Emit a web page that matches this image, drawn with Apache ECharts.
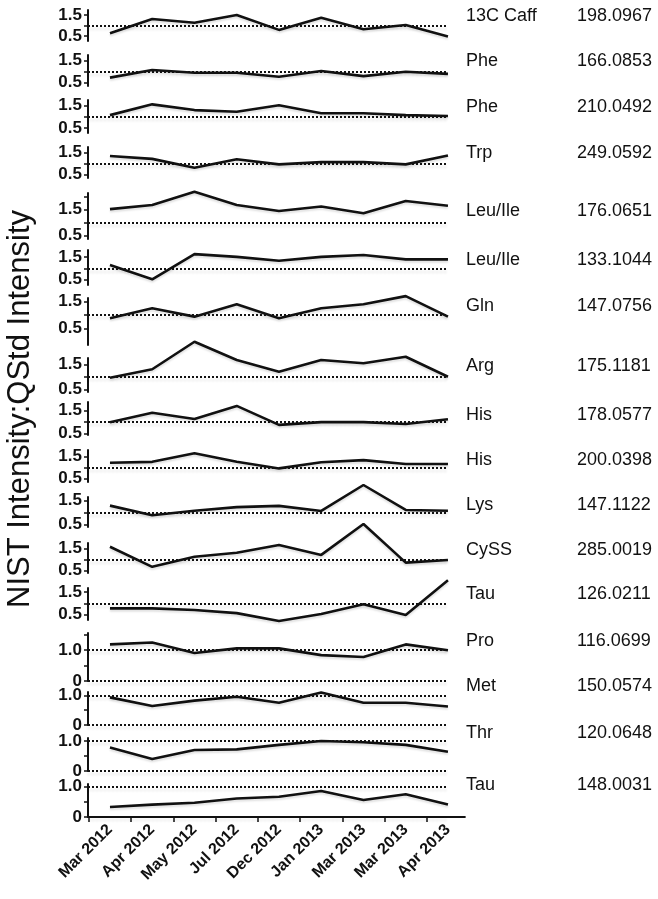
<!DOCTYPE html>
<html>
<head>
<meta charset="utf-8">
<script src="https://cdn.jsdelivr.net/npm/echarts@6/dist/echarts.min.js"></script>
<style>
  html, body { margin: 0; padding: 0; background: #fff; }
  #chart { width: 658px; height: 899px; }
</style>
</head>
<body>
<div id="chart"></div>
<script>
// sampling dates (x axis)
const months = ['Mar 2012', 'Apr 2012', 'May 2012', 'Jul 2012', 'Dec 2012', 'Jan 2013', 'Mar 2013', 'Mar 2013', 'Apr 2013'];

// compound name + m/z, top to bottom
const compounds = ['13C Caff', 'Phe', 'Phe', 'Trp', 'Leu/Ile', 'Leu/Ile', 'Gln', 'Arg', 'His', 'His', 'Lys', 'CySS', 'Tau', 'Pro', 'Met', 'Thr', 'Tau'];
const masses = ['198.0967', '166.0853', '210.0492', '249.0592', '176.0651', '133.1044', '147.0756', '175.1181', '178.0577', '200.0398', '147.1122', '285.0019', '126.0211', '116.0699', '150.0574', '120.0648', '148.0031'];

// NIST intensity : QStd intensity ratio per date
const caff198 = [0.64, 1.32, 1.14, 1.51, 0.80, 1.38, 0.83, 1.03, 0.48];
const phe166 = [0.73, 1.08, 0.95, 0.95, 0.77, 1.03, 0.80, 1.00, 0.90];
const phe210 = [1.07, 1.54, 1.29, 1.22, 1.50, 1.15, 1.15, 1.07, 1.03];
const trp249 = [1.33, 1.20, 0.80, 1.18, 0.95, 1.05, 1.05, 0.95, 1.35];
const leu176 = [1.52, 1.68, 2.19, 1.68, 1.45, 1.62, 1.36, 1.83, 1.65];
const leu133 = [1.14, 0.52, 1.62, 1.50, 1.33, 1.50, 1.58, 1.39, 1.39];
const gln147 = [0.88, 1.25, 0.94, 1.40, 0.88, 1.25, 1.40, 1.70, 0.94];
const arg175 = [0.96, 1.30, 2.40, 1.67, 1.20, 1.67, 1.54, 1.80, 1.00];
const his178 = [0.99, 1.40, 1.13, 1.70, 0.87, 0.99, 0.99, 0.91, 1.12];
const his200 = [1.21, 1.25, 1.64, 1.25, 0.95, 1.23, 1.33, 1.15, 1.15];
const lys147 = [1.29, 0.89, 1.08, 1.23, 1.28, 1.07, 2.15, 1.11, 1.08];
const cyss285 = [1.57, 0.66, 1.12, 1.30, 1.65, 1.20, 2.60, 0.85, 0.97];
const tau126 = [0.78, 0.78, 0.71, 0.57, 0.23, 0.53, 0.96, 0.49, 2.01];
const pro116 = [1.19, 1.25, 0.91, 1.06, 1.06, 0.84, 0.78, 1.19, 1.00];
const met150 = [0.93, 0.64, 0.82, 0.95, 0.75, 1.09, 0.75, 0.75, 0.62];
const thr120 = [0.78, 0.40, 0.70, 0.72, 0.87, 1.00, 0.96, 0.87, 0.64];
const tau148 = [0.33, 0.41, 0.47, 0.61, 0.67, 0.86, 0.56, 0.75, 0.41];

const seriesData = [caff198, phe166, phe210, trp249, leu176, leu133, gln147, arg175, his178,
  his200, lys147, cyss285, tau126, pro116, met150, thr120, tau148];

// y-axis label values: top 13 panels use 0.5 / 1.5, last 4 use 0 / 1.0
const upperLabels = [0.5, 1.5];
const lowerLabels = [0, 1];

// panel layout: grid top/height (px) and y range
const panels = [
  { top: 10, height: 31, min: 0.27, max: 1.75 },
  { top: 55, height: 31, min: 0.35, max: 1.76 },
  { top: 100, height: 33, min: 0.29, max: 1.73 },
  { top: 147, height: 31, min: 0.33, max: 1.74 },
  { top: 193, height: 46, min: 0.37, max: 2.14 },
  { top: 250, height: 35, min: 0.27, max: 1.80 },
  { top: 298, height: 47, min: -0.11, max: 1.63 },
  { top: 358, height: 34, min: 0.39, max: 1.75 },
  { top: 402, height: 33, min: 0.43, max: 1.87 },
  { top: 450, height: 32, min: 0.33, max: 1.79 },
  { top: 497, height: 30, min: 0.40, max: 1.65 },
  { top: 543, height: 30, min: 0.38, max: 1.74 },
  { top: 588, height: 32, min: 0.27, max: 1.67 },
  { top: 633, height: 48, min: 0, max: 1.56 },
  { top: 692, height: 33, min: 0, max: 1.11 },
  { top: 738, height: 33, min: 0, max: 1.10 },
  { top: 784, height: 33, min: 0, max: 1.09 }
];
const labelY = [18, 63, 109, 155, 213, 262, 308, 368, 417, 462, 507, 552, 596, 643, 688, 735, 787];

const FONT = '"Liberation Sans", Arial, sans-serif';
const xMin = -0.52, xMax = 8, pxPerIdx = 42.25;

const chart = echarts.init(document.getElementById('chart'));

const grids = [], xAxes = [], yAxes = [], series = [], graphics = [];

panels.forEach((p, i) => {
  const last = i === panels.length - 1;
  const lower = i >= 13;
  const axMax = last ? 8.4 : xMax;
  grids.push({
    left: 88, top: p.top, height: p.height,
    width: (axMax - xMin) * pxPerIdx
  });
  xAxes.push({
    type: 'value', gridIndex: i, min: xMin, max: axMax,
    show: last,
    axisLine: { show: true, onZero: false, lineStyle: { color: '#111', width: 2 } },
    axisTick: { show: true, length: 5, lineStyle: { color: '#111', width: 1.5 },
      customValues: [-0.5, 0.5, 1.5, 2.5, 3.5, 4.5, 5.5, 6.5, 7.5] },
    axisLabel: {
      customValues: months.map((m, k) => k),
      formatter: v => months[Math.round(v)],
      rotate: 45, margin: 10, fontFamily: FONT, fontWeight: 'bold', fontSize: 16, color: '#111'
    },
    splitLine: { show: false }
  });
  const ticks = (lower ? [0, 0.5, 1, 1.5] : [0.5, 1, 1.5, 2]).filter(v => v >= p.min && v <= p.max);
  yAxes.push({
    type: 'value', gridIndex: i, min: p.min, max: p.max,
    axisLine: { show: true, onZero: false, lineStyle: { color: '#111', width: 2 } },
    axisTick: { show: true, length: 4, lineStyle: { color: '#111', width: 1.5 }, customValues: ticks },
    axisLabel: {
      customValues: lower ? lowerLabels : upperLabels,
      formatter: v => (v === 0 ? '0' : v.toFixed(1)),
      margin: 6, fontFamily: FONT, fontWeight: 'bold', fontSize: 17, color: '#111'
    },
    splitLine: { show: false }
  });
  const refLines = [[{ coord: [xMin, 1] }, { coord: [xMax, 1] }]];
  if (lower) refLines.push([{ coord: [xMin, 0] }, { coord: [xMax, 0] }]);
  series.push({
    type: 'line', xAxisIndex: i, yAxisIndex: i,
    data: seriesData[i].map((v, k) => [k, v]),
    showSymbol: false, clip: false, z: 3,
    lineStyle: { color: '#111', width: 2.6, shadowColor: 'rgba(0,0,0,0.12)', shadowBlur: 2, shadowOffsetY: 2 },
    markLine: {
      silent: true, symbol: 'none', animation: false,
      label: { show: false },
      lineStyle: { color: '#111', width: 2, type: [2, 2],
        shadowColor: 'rgba(0,0,0,0.15)', shadowBlur: 3, shadowOffsetY: 3 },
      data: refLines
    }
  });
  graphics.push({
    type: 'text', left: 466, top: labelY[i] - 11,
    style: { text: compounds[i], fontFamily: FONT, fontSize: 18, fill: '#111' }
  });
  graphics.push({
    type: 'text', left: 577, top: labelY[i] - 11,
    style: { text: masses[i], fontFamily: FONT, fontSize: 18, fill: '#111' }
  });
});

graphics.push({
  type: 'text', x: 20, y: 409, rotation: Math.PI / 2,
  style: {
    text: 'NIST Intensity:QStd Intensity', fontFamily: FONT, fontSize: 31, fill: '#111',
    textAlign: 'center', textVerticalAlign: 'middle'
  }
});

chart.setOption({
  animation: false,
  backgroundColor: '#fff',
  grid: grids,
  xAxis: xAxes,
  yAxis: yAxes,
  series: series,
  graphic: graphics
});
</script>
</body>
</html>
